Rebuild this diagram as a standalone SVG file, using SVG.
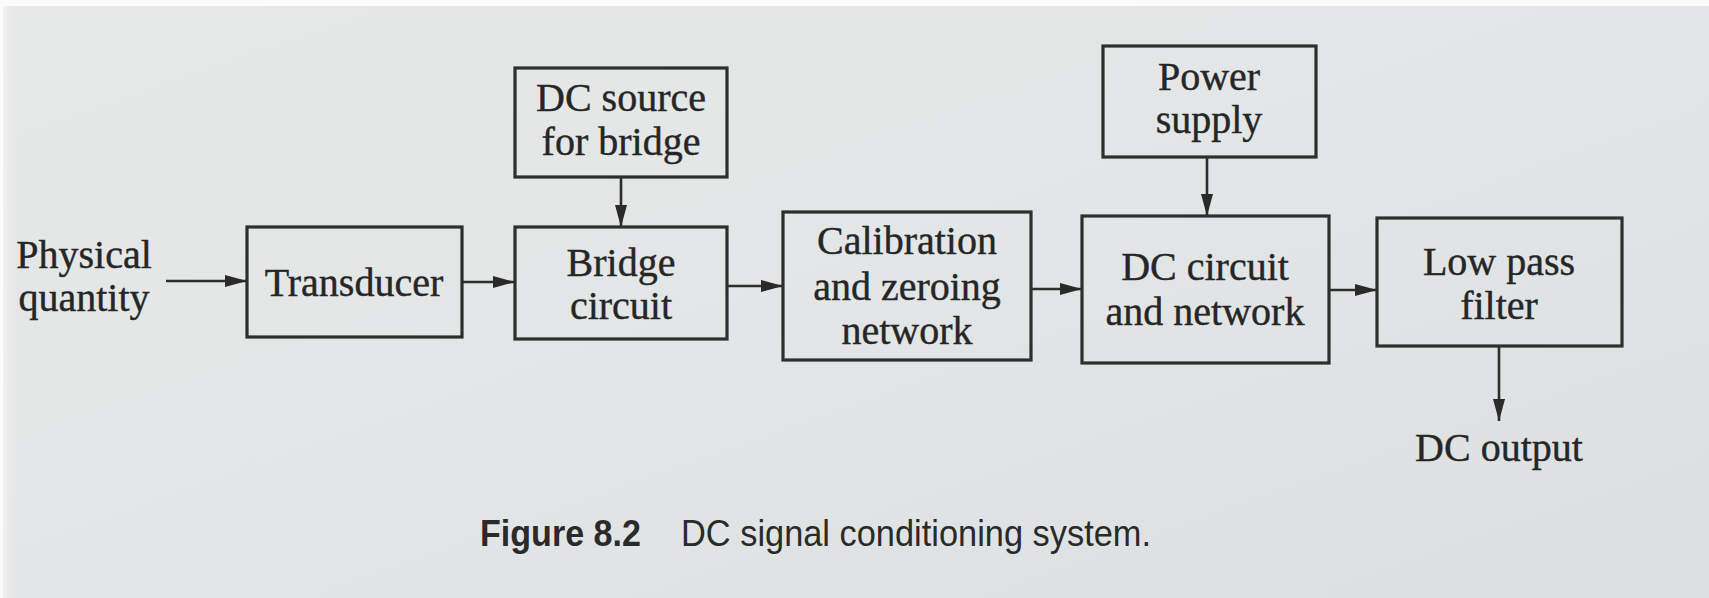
<svg xmlns="http://www.w3.org/2000/svg" width="1709" height="598" viewBox="0 0 1709 598">
<defs>
<linearGradient id="bg" x1="0" y1="0" x2="1" y2="1">
<stop offset="0" stop-color="#e6e8e8"/>
<stop offset="0.5" stop-color="#e3e6e6"/>
<stop offset="1" stop-color="#dcdfe0"/>
</linearGradient>
<linearGradient id="edge" x1="0" y1="0" x2="1" y2="0">
<stop offset="0" stop-color="#f6f7f7"/>
<stop offset="1" stop-color="#e6e8e8" stop-opacity="0"/>
</linearGradient>
<marker id="ah" markerUnits="userSpaceOnUse" markerWidth="24" markerHeight="13" refX="22" refY="6.5" orient="auto">
<path d="M0,0.5 L22,6.5 L0,12.5 Z" fill="#2a2a2a"/>
</marker>
<style>
.box{fill:none;stroke:#2e2e2e;stroke-width:3.2}
.t{font-family:"Liberation Serif","Times New Roman",serif;font-size:40px;fill:#262626;stroke:#262626;stroke-width:0.4;text-anchor:middle}
.c{stroke:#2e2e2e;stroke-width:2.6;fill:none;marker-end:url(#ah)}
.cap{font-family:"Liberation Sans",Arial,sans-serif;font-size:37px;fill:#2a2a2a}
</style>
</defs>
<rect x="0" y="0" width="1709" height="598" fill="url(#bg)"/>
<rect x="0" y="0" width="18" height="598" fill="url(#edge)"/>
<rect x="0" y="0" width="1709" height="6" fill="#fbfbfb"/>
<rect x="0" y="0" width="3" height="598" fill="#fbfbfb"/>

<g id="input-label">
<text class="t" x="84" y="268">Physical</text>
<text class="t" x="84" y="311">quantity</text>
</g>
<g id="transducer">
<rect class="box" x="247" y="227" width="215" height="110"/>
<text class="t" x="354" y="296">Transducer</text>
</g>
<g id="dc-source">
<rect class="box" x="515" y="68" width="212" height="109"/>
<text class="t" x="621" y="111">DC source</text>
<text class="t" x="621" y="155">for bridge</text>
</g>
<g id="bridge">
<rect class="box" x="515" y="227" width="212" height="112"/>
<text class="t" x="621" y="276">Bridge</text>
<text class="t" x="621" y="319">circuit</text>
</g>
<g id="calibration">
<rect class="box" x="783" y="212" width="248" height="148"/>
<text class="t" x="907" y="254">Calibration</text>
<text class="t" x="907" y="300">and zeroing</text>
<text class="t" x="907" y="344">network</text>
</g>
<g id="power-supply">
<rect class="box" x="1103" y="46" width="213" height="111"/>
<text class="t" x="1209" y="90">Power</text>
<text class="t" x="1209" y="133">supply</text>
</g>
<g id="dc-circuit">
<rect class="box" x="1082" y="216" width="247" height="147"/>
<text class="t" x="1205" y="280">DC circuit</text>
<text class="t" x="1205" y="325">and network</text>
</g>
<g id="low-pass">
<rect class="box" x="1377" y="218" width="245" height="128"/>
<text class="t" x="1499" y="275">Low pass</text>
<text class="t" x="1499" y="319">filter</text>
</g>
<g id="output-label">
<text class="t" x="1499" y="461">DC output</text>
</g>

<g id="connectors">
<line class="c" x1="166" y1="281" x2="247" y2="281"/>
<line class="c" x1="462" y1="282" x2="515" y2="282"/>
<line class="c" x1="621" y1="177" x2="621" y2="227"/>
<line class="c" x1="727" y1="286" x2="783" y2="286"/>
<line class="c" x1="1031" y1="289" x2="1082" y2="289"/>
<line class="c" x1="1207" y1="157" x2="1207" y2="216"/>
<line class="c" x1="1329" y1="290" x2="1377" y2="290"/>
<line class="c" x1="1499" y1="346" x2="1499" y2="421"/>
</g>

<g id="caption">
<text class="cap" x="480" y="546" font-weight="bold" textLength="161" lengthAdjust="spacingAndGlyphs">Figure 8.2</text>
<text class="cap" x="681" y="546" textLength="470" lengthAdjust="spacingAndGlyphs">DC signal conditioning system.</text>
</g>
</svg>
